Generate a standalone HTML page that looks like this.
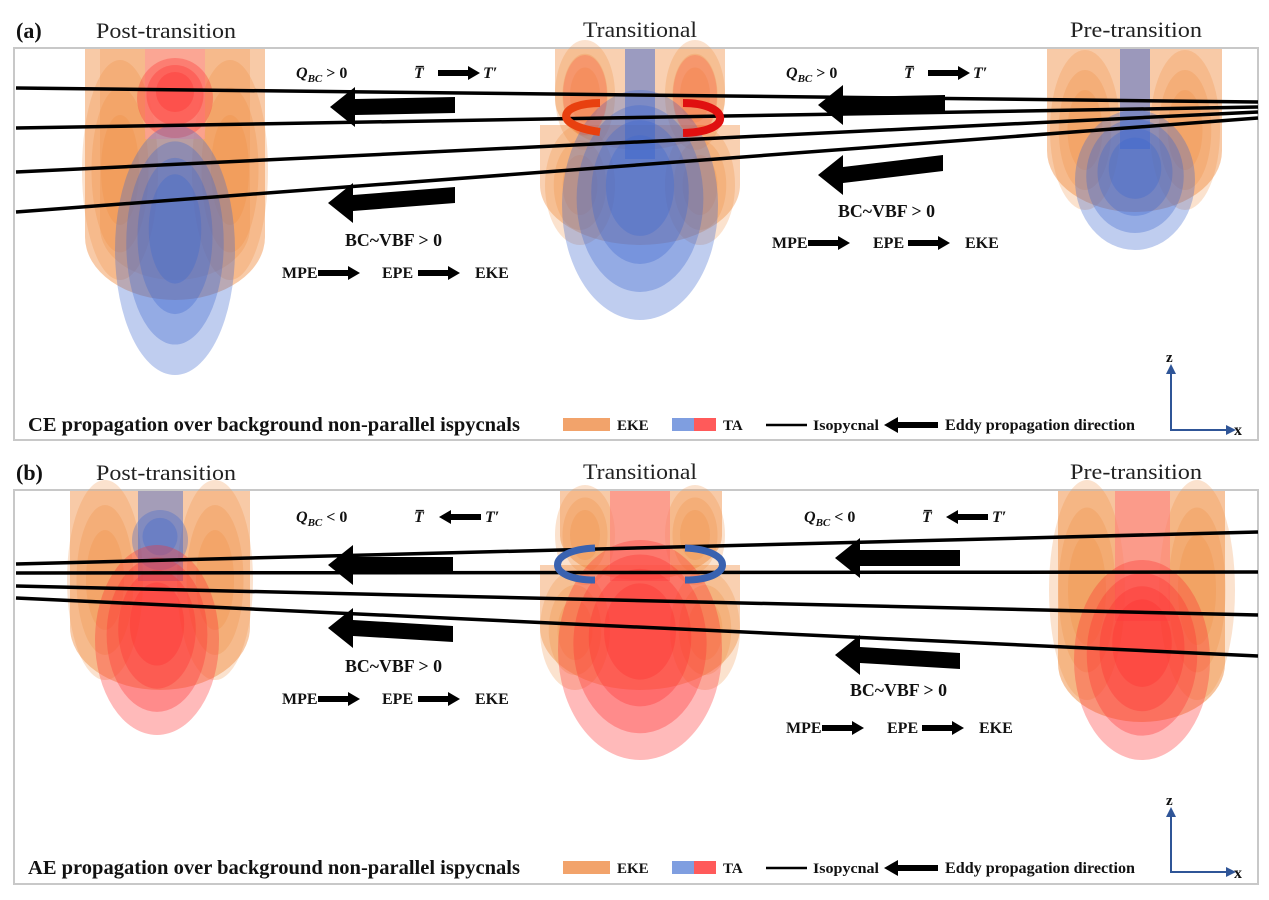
<!DOCTYPE html>
<html><head><meta charset="utf-8"><style>
html,body{margin:0;padding:0;background:#fff}
svg{display:block}
text{font-family:"Liberation Serif",serif;font-weight:bold;fill:#111}
.h{font-family:"Liberation Serif",serif;font-weight:normal;font-size:22px;fill:#222}
.t{font-size:16px}
.lg{font-size:15px}
</style></head><body>
<svg id="s" width="1269" height="900" viewBox="0 0 1269 900" xmlns="http://www.w3.org/2000/svg">
<rect x="14" y="48" width="1244" height="392" fill="#fff" stroke="#c8c8c8" stroke-width="2"/>
<rect x="14" y="490" width="1244" height="394" fill="#fff" stroke="#c8c8c8" stroke-width="2"/>
<g id="shapes"></g>
<g id="lines" stroke="#000" stroke-width="3.5" fill="none">
<line x1="16" y1="88" x2="1258" y2="102"/>
<line x1="16" y1="128" x2="1258" y2="107"/>
<line x1="16" y1="172" x2="1258" y2="112"/>
<line x1="16" y1="212" x2="1258" y2="118"/>
<line x1="16" y1="564" x2="1258" y2="532"/>
<line x1="16" y1="573" x2="1258" y2="572"/>
<line x1="16" y1="586" x2="1258" y2="615"/>
<line x1="16" y1="598" x2="1258" y2="656"/>
</g>
<g fill="#000" id="arrows"></g>
<text x="16" y="38" font-size="22">(a)</text>
<text x="96" y="38" class="h" textLength="140" lengthAdjust="spacingAndGlyphs">Post-transition</text>
<text x="583" y="37" class="h" textLength="114" lengthAdjust="spacingAndGlyphs">Transitional</text>
<text x="1070" y="37" class="h" textLength="132" lengthAdjust="spacingAndGlyphs">Pre-transition</text>
<text x="16" y="480" font-size="22">(b)</text>
<text x="96" y="480" class="h" textLength="140" lengthAdjust="spacingAndGlyphs">Post-transition</text>
<text x="583" y="479" class="h" textLength="114" lengthAdjust="spacingAndGlyphs">Transitional</text>
<text x="1070" y="479" class="h" textLength="132" lengthAdjust="spacingAndGlyphs">Pre-transition</text>
<text x="296" y="78" class="t" font-style="italic">Q<tspan font-size="11" dy="4">BC</tspan><tspan dy="-4" font-style="normal"> &gt; 0</tspan></text>
<text x="414" y="78" class="t" font-style="italic">T̅</text>
<text x="483" y="78" class="t" font-style="italic">T′</text>
<text x="786" y="78" class="t" font-style="italic">Q<tspan font-size="11" dy="4">BC</tspan><tspan dy="-4" font-style="normal"> &gt; 0</tspan></text>
<text x="904" y="78" class="t" font-style="italic">T̅</text>
<text x="973" y="78" class="t" font-style="italic">T′</text>
<text x="345" y="246" font-size="18" textLength="97" lengthAdjust="spacingAndGlyphs">BC~VBF &gt; 0</text>
<text x="282" y="278" class="t">MPE</text><text x="382" y="278" class="t">EPE</text><text x="475" y="278" class="t">EKE</text>
<text x="838" y="217" font-size="18" textLength="97" lengthAdjust="spacingAndGlyphs">BC~VBF &gt; 0</text>
<text x="772" y="248" class="t">MPE</text><text x="873" y="248" class="t">EPE</text><text x="965" y="248" class="t">EKE</text>
<text x="296" y="522" class="t" font-style="italic">Q<tspan font-size="11" dy="4">BC</tspan><tspan dy="-4" font-style="normal"> &lt; 0</tspan></text>
<text x="414" y="522" class="t" font-style="italic">T̅</text>
<text x="485" y="522" class="t" font-style="italic">T′</text>
<text x="804" y="522" class="t" font-style="italic">Q<tspan font-size="11" dy="4">BC</tspan><tspan dy="-4" font-style="normal"> &lt; 0</tspan></text>
<text x="922" y="522" class="t" font-style="italic">T̅</text>
<text x="992" y="522" class="t" font-style="italic">T′</text>
<text x="345" y="672" font-size="18" textLength="97" lengthAdjust="spacingAndGlyphs">BC~VBF &gt; 0</text>
<text x="282" y="704" class="t">MPE</text><text x="382" y="704" class="t">EPE</text><text x="475" y="704" class="t">EKE</text>
<text x="850" y="696" font-size="18" textLength="97" lengthAdjust="spacingAndGlyphs">BC~VBF &gt; 0</text>
<text x="786" y="733" class="t">MPE</text><text x="887" y="733" class="t">EPE</text><text x="979" y="733" class="t">EKE</text>
<text x="28" y="431" font-size="20" textLength="492" lengthAdjust="spacingAndGlyphs">CE propagation over background non-parallel ispycnals</text>
<rect x="563" y="418" width="47" height="13" fill="#f2a36b"/>
<text x="617" y="430" class="lg">EKE</text>
<rect x="672" y="418" width="22" height="13" fill="#7f9ee0"/><rect x="694" y="418" width="22" height="13" fill="#ff5a5a"/>
<text x="723" y="430" class="lg">TA</text>
<line x1="766" y1="425" x2="807" y2="425" stroke="#000" stroke-width="2.5"/>
<text x="813" y="430" class="lg" textLength="66" lengthAdjust="spacingAndGlyphs">Isopycnal</text>
<text x="945" y="430" font-size="16" textLength="190" lengthAdjust="spacingAndGlyphs">Eddy propagation direction</text>
<text x="28" y="874" font-size="20" textLength="492" lengthAdjust="spacingAndGlyphs">AE propagation over background non-parallel ispycnals</text>
<rect x="563" y="861" width="47" height="13" fill="#f2a36b"/>
<text x="617" y="873" class="lg">EKE</text>
<rect x="672" y="861" width="22" height="13" fill="#7f9ee0"/><rect x="694" y="861" width="22" height="13" fill="#ff5a5a"/>
<text x="723" y="873" class="lg">TA</text>
<line x1="766" y1="868" x2="807" y2="868" stroke="#000" stroke-width="2.5"/>
<text x="813" y="873" class="lg" textLength="66" lengthAdjust="spacingAndGlyphs">Isopycnal</text>
<text x="945" y="873" font-size="16" textLength="190" lengthAdjust="spacingAndGlyphs">Eddy propagation direction</text>
<g stroke="#2f5597" stroke-width="2" fill="none">
<polyline points="1171,372 1171,430 1228,430"/>
<polyline points="1171,815 1171,872 1228,872"/>
</g>
<g fill="#2f5597">
<polygon points="1166,374 1171,364 1176,374"/><polygon points="1226,425 1236,430 1226,435"/>
<polygon points="1166,817 1171,807 1176,817"/><polygon points="1226,867 1236,872 1226,877"/>
</g>
<text x="1166" y="362" font-size="15">z</text><text x="1234" y="435" font-size="16">x</text>
<text x="1166" y="805" font-size="15">z</text><text x="1234" y="878" font-size="16">x</text>
</svg>
<script>
var NS="http://www.w3.org/2000/svg",G=document.getElementById("shapes"),A=document.getElementById("arrows");
function el(n,a,p){var e=document.createElementNS(NS,n);for(var k in a)e.setAttribute(k,a[k]);(p||G).appendChild(e);return e;}
var OR="#f08a3c",BL="#3d66cf",RD="#ff2e2e",PK="#ff7a7a";
function u(x1,x2,top,bot,c,o){var rx=(x2-x1)/2,ry=Math.min(rx*0.7,(bot-top)/2);
 el("path",{d:"M"+x1+","+top+"V"+(bot-ry)+"A"+rx+","+ry+" 0 0 0 "+x2+","+(bot-ry)+"V"+top+"Z",fill:c,"fill-opacity":o});}
function e(cx,cy,rx,ry,c,o){el("ellipse",{cx:cx,cy:cy,rx:rx,ry:ry,fill:c,"fill-opacity":o});}
function core(cx,cy,rx,ry,c,n){for(var i=0;i<n;i++){var f=1-i/n*0.75;e(cx,cy+ry*(1-f)*-0.3,rx*f,ry*f,c,0.33);}}
function lobes(cx,cy,dx,rx,ry){for(var s=-1;s<=1;s+=2){for(var i=0;i<3;i++){var f=1-i*0.25;e(cx+s*dx,cy,rx*f,ry*f,OR,0.25);}}}
function arrow(x1,x2,y,tilt){var h=8,H=20,hl=25;el("polygon",{points:x1+","+y+" "+(x1+hl)+","+(y-H)+" "+(x1+hl)+","+(y-h)+" "+x2+","+(y-h+tilt)+" "+x2+","+(y+h+tilt)+" "+(x1+hl)+","+(y+h)+" "+(x1+hl)+","+(y+H)},A);}
function sm(x,y){el("polygon",{points:x+","+(y-3)+" "+(x+30)+","+(y-3)+" "+(x+30)+","+(y-7)+" "+(x+42)+","+y+" "+(x+30)+","+(y+7)+" "+(x+30)+","+(y+3)+" "+x+","+(y+3)},A);}
function smL(x,y){el("polygon",{points:(x+42)+","+(y-3)+" "+(x+12)+","+(y-3)+" "+(x+12)+","+(y-7)+" "+x+","+y+" "+(x+12)+","+(y+7)+" "+(x+12)+","+(y+3)+" "+(x+42)+","+(y+3)},A);}
u(85,265,49,300,OR,0.45);u(100,250,49,280,OR,0.25);
lobes(175,170,55,38,110);
el("rect",{x:145,y:49,width:60,height:90,fill:"#ff9a9a","fill-opacity":0.6});
core(175,98,38,40,RD,3);
core(175,250,60,125,BL,4);
u(555,725,49,150,OR,0.4);
lobes(640,95,55,30,55);
u(540,740,125,245,OR,0.4);
lobes(640,185,60,35,60);
el("rect",{x:625,y:49,width:30,height:110,fill:BL,"fill-opacity":0.5});
core(640,205,78,115,BL,4);
e(585,95,22,40,RD,0.2);e(695,95,22,40,RD,0.2);
u(1047,1222,49,212,OR,0.45);
lobes(1135,130,50,35,80);
el("rect",{x:1120,y:49,width:30,height:100,fill:BL,"fill-opacity":0.5});
core(1135,180,60,70,BL,4);
u(70,250,491,690,OR,0.45);
lobes(160,580,55,38,100);
el("rect",{x:138,y:491,width:45,height:90,fill:BL,"fill-opacity":0.45});
core(160,540,28,30,BL,2);
core(157,640,62,95,RD,4);
u(560,722,491,580,OR,0.45);
lobes(640,535,55,30,50);
u(540,740,565,690,OR,0.4);
lobes(640,630,65,35,60);
el("rect",{x:610,y:491,width:60,height:90,fill:PK,"fill-opacity":0.55});
core(640,650,82,110,RD,4);
u(1058,1225,491,722,OR,0.5);
lobes(1142,590,55,38,110);
el("rect",{x:1115,y:491,width:55,height:130,fill:PK,"fill-opacity":0.55});
core(1142,660,68,100,RD,4);
el("path",{d:"M600,103 C560,103 550,125 600,132",stroke:"#e8400f","stroke-width":8,fill:"none"},A);
el("path",{d:"M683,103 C730,103 735,132 683,133",stroke:"#e01010","stroke-width":8,fill:"none"},A);
el("path",{d:"M595,548 C545,550 545,580 595,580",stroke:"#3a62b0","stroke-width":7,fill:"none"},A);
el("path",{d:"M685,548 C735,550 735,580 685,580",stroke:"#3a62b0","stroke-width":7,fill:"none"},A);
arrow(330,455,107,-2);arrow(328,455,203,-8);arrow(818,945,105,-2);arrow(818,943,175,-12);
arrow(328,453,565,0);arrow(328,453,628,6);arrow(835,960,558,0);arrow(835,960,655,6);
sm(438,73);sm(928,73);
sm(318,273);sm(418,273);sm(808,243);sm(908,243);
sm(318,699);sm(418,699);sm(822,728);sm(922,728);
smL(439,517);smL(946,517);
el("polygon",{points:"884,425 898,417 898,422 938,422 938,428 898,428 898,433",fill:"#000"},A);
el("polygon",{points:"884,868 898,860 898,865 938,865 938,871 898,871 898,876",fill:"#000"},A);
</script>
</body></html>
